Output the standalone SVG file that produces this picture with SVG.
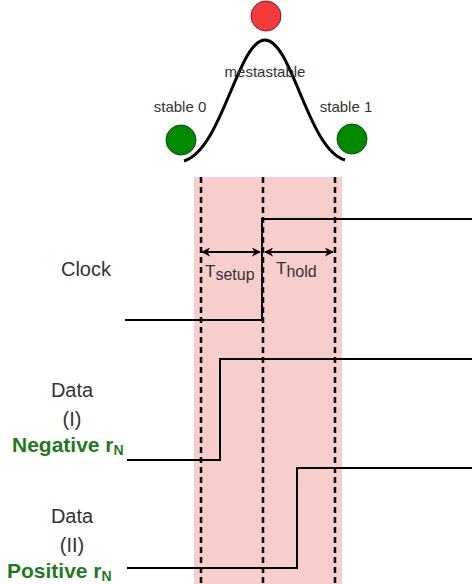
<svg xmlns="http://www.w3.org/2000/svg" width="472" height="584" viewBox="0 0 472 584">
<style>
.lbl{font-family:"Liberation Sans",Arial,sans-serif;fill:#333333;}
.sm{font-size:15px;}
.big{font-size:20px;}
.grn{font-family:"Liberation Sans",Arial,sans-serif;font-weight:bold;fill:#1f7a1f;font-size:21px;}
.dash{stroke:#000;stroke-width:2.5;stroke-dasharray:6 4;fill:none;}
.sig{stroke:#000;stroke-width:2;fill:none;}
</style>
<defs>
<marker id="ah" viewBox="0 0 10 10" refX="9" refY="5" markerWidth="9" markerHeight="9" orient="auto-start-reverse" markerUnits="userSpaceOnUse">
<path d="M0,0 L10,5 L0,10 L3,5 Z" fill="#000"/>
</marker>
</defs>
<rect id="window" x="194" y="177" width="148" height="407" fill="#f8cecc"/>
<g id="curve">
<path d="M184,161 C222,150 238,40 265,40 C292,40 308,150 345,160" fill="none" stroke="#000" stroke-width="3"/>
</g>
<g id="meta"><circle cx="266" cy="16" r="15" fill="#f33b3b" stroke="#8b1a1a" stroke-width="1"/></g>
<g id="s0"><circle cx="181" cy="140" r="15" fill="#008a00" stroke="#0b4d0b" stroke-width="1"/></g>
<g id="s1"><circle cx="352" cy="139" r="15" fill="#008a00" stroke="#0b4d0b" stroke-width="1"/></g>
<text class="lbl sm" x="265" y="77" text-anchor="middle">mestastable</text>
<text class="lbl sm" x="180" y="112" text-anchor="middle">stable 0</text>
<text class="lbl sm" x="346" y="112" text-anchor="middle">stable 1</text>
<g id="connectors">
<line class="dash" x1="201" y1="177" x2="201" y2="584"/>
<line class="dash" x1="263" y1="177" x2="263" y2="584"/>
<line class="dash" x1="335" y1="177" x2="335" y2="584"/>
<polyline class="sig" points="125,320 262,320 262,219 472,219"/>
<polyline class="sig" points="127,460 220,460 220,359 472,359"/>
<polyline class="sig" points="127,568 297,568 297,468 472,468"/>
<line class="sig" x1="202" y1="252" x2="260" y2="252" marker-start="url(#ah)" marker-end="url(#ah)"/>
<line class="sig" x1="265" y1="252" x2="333" y2="252" marker-start="url(#ah)" marker-end="url(#ah)"/>
</g>
<text class="lbl" font-size="17" x="205" y="277">T<tspan font-size="16" dy="3">setup</tspan></text>
<text class="lbl" font-size="17" x="276" y="274">T<tspan font-size="16" dy="3">hold</tspan></text>
<text class="lbl big" x="86" y="276" text-anchor="middle">Clock</text>
<text class="lbl big" x="72" y="397" text-anchor="middle">Data</text>
<text class="lbl big" x="72" y="426" text-anchor="middle">(I)</text>
<text class="grn" x="12" y="452">Negative r<tspan font-size="14" dy="3">N</tspan></text>
<text class="lbl big" x="72" y="523" text-anchor="middle">Data</text>
<text class="lbl big" x="72" y="552" text-anchor="middle">(II)</text>
<text class="grn" x="7" y="578">Positive r<tspan font-size="14" dy="3">N</tspan></text>
</svg>
